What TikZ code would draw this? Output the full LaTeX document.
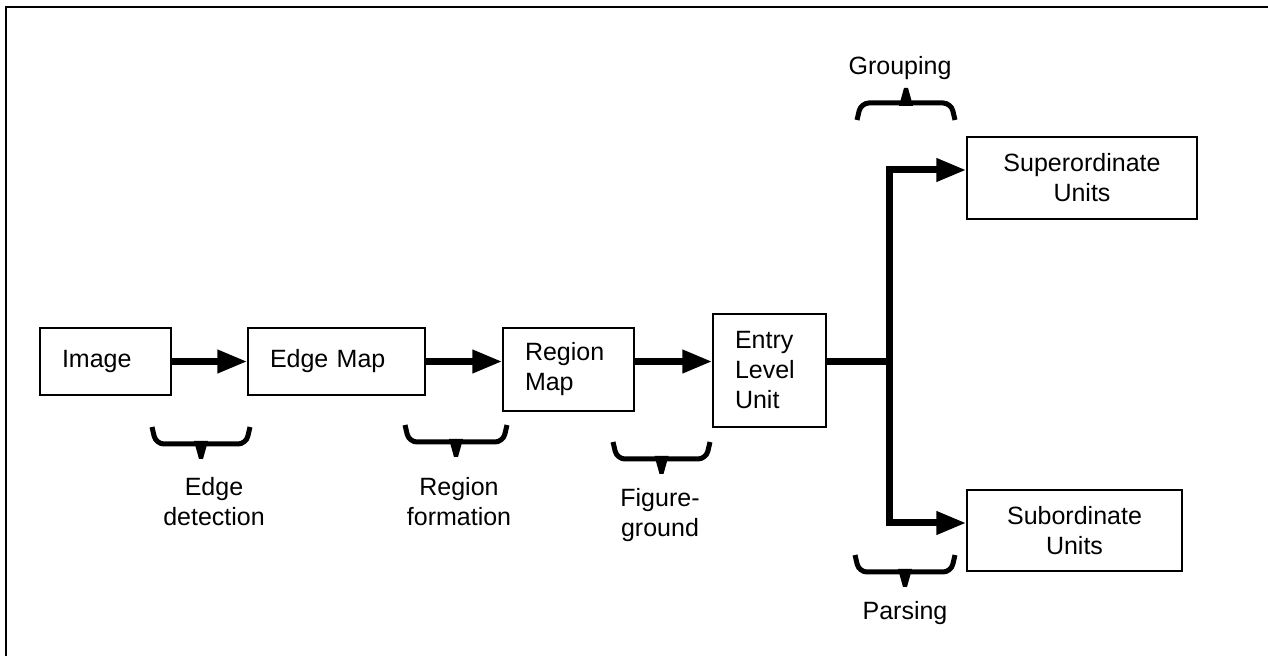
\documentclass[tikz,border=0pt]{standalone}
\usepackage{fontspec}
\setmainfont{Liberation Sans}
\usetikzlibrary{arrows.meta,calc,positioning}

\begin{document}
\begin{tikzpicture}[x=0.5pt,y=-0.5pt,>={Triangle[length=15pt,width=11pt]},
 font=\fontsize{12.5}{15}\selectfont,
 box/.style={draw,line width=0.7pt,inner sep=2pt},
 lbox/.style={box,align=left,inner xsep=11pt},
 flow/.style={line width=3.5pt,->},
 brc/.style={line width=2.5pt,rounded corners=4pt}]
 \useasboundingbox (0,0) rectangle (1268,656);
 \draw[line width=1pt] (6,656) -- (6,7) -- (1268,7);
 % boxes
 \node[lbox,text width=43.5pt,minimum height=33.5pt] (img) at (105.5,361.5) {Image};
 \node[lbox,text width=66.5pt,minimum height=33.5pt] (edge) at (336.5,361.5) {Edge Map};
 \node[lbox,text width=43.5pt,minimum height=41.5pt] (reg) at (568.5,369.5) {Region\\Map};
 \node[lbox,text width=34.5pt,minimum height=56.5pt] (entry) at (769.5,370.5) {Entry\\Level\\Unit};
 \node[box,minimum width=115pt,minimum height=41pt,align=center] (sup) at (1082,178) {Superordinate\\Units};
 \node[box,minimum width=107.5pt,minimum height=40.5pt,align=center] (sub) at (1074.5,530.5) {Subordinate\\Units};
 % connectors
 \coordinate (split) at (889,361.5);
 \coordinate (upturn) at (889,170);
 \coordinate (downturn) at (889,523);
 \draw[flow] (img) -- (edge);
 \draw[flow] (edge.east) -- (edge.east -| reg.west);
 \draw[flow] (reg.east |- edge.east) -- (edge.east -| entry.west);
 \draw[line width=3.5pt] (entry.east |- split) -- (split);
 \draw[line width=3.5pt,<->] (upturn -| sup.west) -- (upturn) -- (downturn) -- (downturn -| sub.west);
 % braces
 \foreach \l/\r/\y/\s in {152/250/427/1,405/507/425/1,613/710/442/1,855/955/555/1,857/955/120/-1}{
   \draw[brc] (\l,\y) -- ({\l+4},{\y+17*(\s)}) -- ({\r-4},{\y+17*(\s)}) -- (\r,\y);
   \fill ({(\l+\r)/2-7},{\y+14*(\s)}) -- ({(\l+\r)/2+7},{\y+14*(\s)})
     -- ({(\l+\r)/2+2},{\y+32*(\s)}) -- ({(\l+\r)/2-2},{\y+32*(\s)}) -- cycle;
 }
 % labels
 \node[align=center] (edgelbl) at (214,502) {Edge\\detection};
 \node[align=center] (reglbl) at (459,502) {Region\\formation};
 \node[align=center] (figlbl) at (660,515) {Figure-\\ground};
 \node (grplbl) at (900,68) {Grouping};
 \node (parlbl) at (905,613) {Parsing};
\end{tikzpicture}
\end{document}
